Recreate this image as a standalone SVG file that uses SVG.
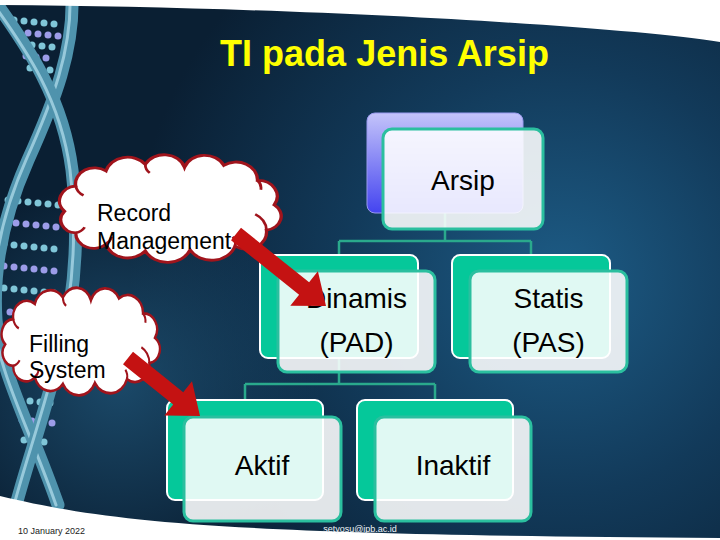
<svg xmlns="http://www.w3.org/2000/svg" width="720" height="540" viewBox="0 0 720 540">
<defs>
<radialGradient id="bg" cx="560" cy="280" r="430" gradientUnits="userSpaceOnUse">
<stop offset="0" stop-color="#1d5c86"/>
<stop offset="0.5" stop-color="#123a5a"/>
<stop offset="1" stop-color="#0a1f33"/>
</radialGradient>
<radialGradient id="bg2" cx="120" cy="380" r="200" gradientUnits="userSpaceOnUse">
<stop offset="0" stop-color="#1f5477" stop-opacity="0.8"/>
<stop offset="1" stop-color="#1f5477" stop-opacity="0"/>
</radialGradient>
<linearGradient id="purp" x1="0" y1="0" x2="0" y2="1">
<stop offset="0" stop-color="#c4c4fa"/>
<stop offset="1" stop-color="#4444f0"/>
</linearGradient>
<path id="cloud" d="M8,55 A16,16 0 0 1 18,28 A17,17 0 0 1 45,12 A20,20 0 0 1 80,5 A19,19 0 0 1 115,8 A19,19 0 0 1 150,6 A19,19 0 0 1 180,22 A17,17 0 0 1 195,48 A15,15 0 0 1 188,75 A18,18 0 0 1 160,92 A22,22 0 0 1 120,96 A22,22 0 0 1 80,97 A20,20 0 0 1 45,90 A16,16 0 0 1 18,78 A14,14 0 0 1 8,55 Z"/>
<path id="ticks" d="M18,78 A12,12 0 0 0 26,72 M45,90 A14,14 0 0 0 50,82 M160,92 A12,12 0 0 0 158,82 M188,75 A20,20 0 0 0 178,58 M180,22 A12,12 0 0 1 183,32 M80,5 A12,12 0 0 0 84,14 M18,28 A14,14 0 0 0 25,38"/>
</defs>
<style>
.conn{fill:none;stroke:#2aa98c;stroke-width:2.5}
.backT{fill:#05c89a;stroke:#ffffff;stroke-width:2}
.backP{fill:url(#purp);stroke:#9a9af0;stroke-width:1}
.front{fill:#ffffff;fill-opacity:0.88;stroke:#2bbf9f;stroke-width:3}
.lbl{font-family:"Liberation Sans",Arial,sans-serif;font-size:28px;fill:#000;text-anchor:middle}
.cl{fill:#ffffff;stroke:#a0141c;stroke-width:3}
.tk{fill:none;stroke:#a0141c;stroke-width:2.5}
.ct{font-family:"Liberation Sans",Arial,sans-serif;font-size:23px;fill:#000}
.arrow{fill:#c41212}
.strand{fill:none;stroke:#4f93ad;stroke-width:13;stroke-linecap:round}
.strandH{fill:none;stroke:#a9d7e6;stroke-width:3;stroke-linecap:round;opacity:0.8}
.b1{fill:#80c6d8}
.b2{fill:#9c9ce8}
</style>
<g id="background">
<rect x="0" y="0" width="720" height="540" fill="url(#bg)"/>
<rect x="0" y="0" width="720" height="540" fill="url(#bg2)"/>
</g>
<g id="dna">
<g class="b1">
<circle cx="14" cy="20" r="3.5"/><circle cx="24" cy="21" r="3.5"/><circle cx="34" cy="22" r="3.5"/><circle cx="44" cy="23" r="3.5"/><circle cx="54" cy="24" r="3.5"/>
<circle cx="22" cy="44" r="3.5"/><circle cx="32" cy="45" r="3.5"/><circle cx="42" cy="46" r="3.5"/><circle cx="52" cy="47" r="3.5"/>
<circle cx="30" cy="68" r="3.5"/><circle cx="40" cy="69" r="3.5"/><circle cx="50" cy="70" r="3.5"/>
<circle cx="8" cy="200" r="3.5"/><circle cx="18" cy="201" r="3.5"/><circle cx="28" cy="202" r="3.5"/><circle cx="38" cy="203" r="3.5"/><circle cx="48" cy="204" r="3.5"/><circle cx="58" cy="205" r="3.5"/>
<circle cx="4" cy="244" r="3.5"/><circle cx="14" cy="245" r="3.5"/><circle cx="24" cy="246" r="3.5"/><circle cx="34" cy="247" r="3.5"/><circle cx="44" cy="248" r="3.5"/><circle cx="54" cy="249" r="3.5"/>
<circle cx="4" cy="288" r="3.5"/><circle cx="14" cy="289" r="3.5"/><circle cx="24" cy="290" r="3.5"/><circle cx="34" cy="291" r="3.5"/><circle cx="44" cy="292" r="3.5"/><circle cx="54" cy="293" r="3.5"/>
<circle cx="20" cy="400" r="3.5"/><circle cx="30" cy="401" r="3.5"/><circle cx="40" cy="402" r="3.5"/><circle cx="50" cy="403" r="3.5"/>
<circle cx="24" cy="440" r="3.5"/><circle cx="34" cy="441" r="3.5"/><circle cx="44" cy="442" r="3.5"/>
</g>
<g class="b2">
<circle cx="18" cy="32" r="3.5"/><circle cx="28" cy="33" r="3.5"/><circle cx="38" cy="34" r="3.5"/><circle cx="48" cy="35" r="3.5"/><circle cx="58" cy="36" r="3.5"/>
<circle cx="26" cy="56" r="3.5"/><circle cx="36" cy="57" r="3.5"/><circle cx="46" cy="58" r="3.5"/>
<circle cx="6" cy="222" r="3.5"/><circle cx="16" cy="223" r="3.5"/><circle cx="26" cy="224" r="3.5"/><circle cx="36" cy="225" r="3.5"/><circle cx="46" cy="226" r="3.5"/><circle cx="56" cy="227" r="3.5"/>
<circle cx="4" cy="266" r="3.5"/><circle cx="14" cy="267" r="3.5"/><circle cx="24" cy="268" r="3.5"/><circle cx="34" cy="269" r="3.5"/><circle cx="44" cy="270" r="3.5"/><circle cx="54" cy="271" r="3.5"/>
<circle cx="10" cy="312" r="3.5"/><circle cx="20" cy="313" r="3.5"/><circle cx="30" cy="314" r="3.5"/><circle cx="40" cy="315" r="3.5"/><circle cx="50" cy="316" r="3.5"/>
<circle cx="22" cy="420" r="3.5"/><circle cx="32" cy="421" r="3.5"/><circle cx="42" cy="422" r="3.5"/><circle cx="52" cy="423" r="3.5"/>
</g>
<path class="strand" d="M72,-5 C74,50 55,100 28,160 C8,205 -8,260 -4,320 C0,372 30,425 58,505"/>
<path class="strandH" d="M70,-5 C72,50 53,100 26,160 C6,205 -10,260 -6,320 C-2,372 28,425 56,505"/>
<path class="strand" d="M-6,0 C22,40 62,92 72,170 C80,240 74,300 60,352 C46,410 28,460 16,505"/>
<path class="strandH" d="M-8,2 C20,42 60,94 70,170 C78,240 72,300 58,352 C44,410 26,460 14,505"/>
</g>
<g id="frame">
<path d="M0,0 H720 V42 C620,26 300,7 0,5 Z" fill="#ffffff"/>
<path d="M0,540 V496 C110,522 220,535 720,538 V540 Z" fill="#ffffff"/>
</g>
<text id="title" x="384.5" y="66" font-family="Liberation Sans, Arial, sans-serif" font-size="36" font-weight="bold" fill="#ffff00" text-anchor="middle">TI pada Jenis Arsip</text>
<g id="connectors">
<path class="conn" d="M445,213 V241 M339,241 H531 M339,241 V256 M531,241 V256"/>
<path class="conn" d="M339,358 V384 M245,384 H435 M245,384 V401 M435,384 V401"/>
</g>
<g id="node-arsip">
<rect class="backP" x="367" y="113" width="156" height="100" rx="8"/>
<rect class="front" x="383" y="129" width="160" height="100" rx="9"/>
<text class="lbl" x="463" y="190">Arsip</text>
</g>
<g id="node-dinamis">
<rect class="backT" x="260" y="255" width="158" height="103" rx="8"/>
<rect class="front" x="278" y="271" width="157" height="101" rx="9"/>
<text class="lbl" x="356.5" y="308">Dinamis</text>
<text class="lbl" x="356.5" y="352">(PAD)</text>
</g>
<g id="node-statis">
<rect class="backT" x="452" y="255" width="158" height="103" rx="8"/>
<rect class="front" x="470" y="271" width="157" height="101" rx="9"/>
<text class="lbl" x="548.5" y="308">Statis</text>
<text class="lbl" x="548.5" y="352">(PAS)</text>
</g>
<g id="node-aktif">
<rect class="backT" x="167" y="400" width="156" height="100" rx="8"/>
<rect class="front" x="184" y="417" width="157" height="104" rx="9"/>
<text class="lbl" x="262" y="475">Aktif</text>
</g>
<g id="node-inaktif">
<rect class="backT" x="357" y="400" width="156" height="100" rx="8"/>
<rect class="front" x="375" y="417" width="156" height="104" rx="9"/>
<text class="lbl" x="453" y="475">Inaktif</text>
</g>
<g id="cloud-record">
<use href="#cloud" class="cl" transform="translate(55.5,159.7) scale(1.122,0.939)"/>
<use href="#ticks" class="tk" transform="translate(55.5,159.7) scale(1.122,0.939)"/>
</g>
<g id="cloud-filling">
<use href="#cloud" class="cl" transform="translate(-1.2,292.7) scale(0.801,0.939)"/>
<use href="#ticks" class="tk" transform="translate(-1.2,292.7) scale(0.801,0.939)"/>
</g>
<g id="arrows">
<polygon class="arrow" points="241,227.8 309.1,282.3 317.9,271.3 326,306 290.3,305.7 299.1,294.7 231,240.2"/>
<polygon class="arrow" points="133,351.8 183.2,392.2 192,381.3 200,416 164.4,415.5 173.2,404.6 123,364.2"/>
</g>
<g id="cloud-texts">
<text class="ct" x="97" y="221">Record</text>
<text class="ct" x="97" y="249">Management</text>
<text class="ct" x="29" y="352">Filling</text>
<text class="ct" x="29" y="378">System</text>
</g>
<g id="footer">
<text x="18" y="534" font-family="Liberation Sans, Arial, sans-serif" font-size="9" fill="#222222">10 January 2022</text>
<text x="360" y="532" font-family="Liberation Sans, Arial, sans-serif" font-size="9" fill="#f0f4f8" text-anchor="middle">setyosu@ipb.ac.id</text>
</g>
</svg>
